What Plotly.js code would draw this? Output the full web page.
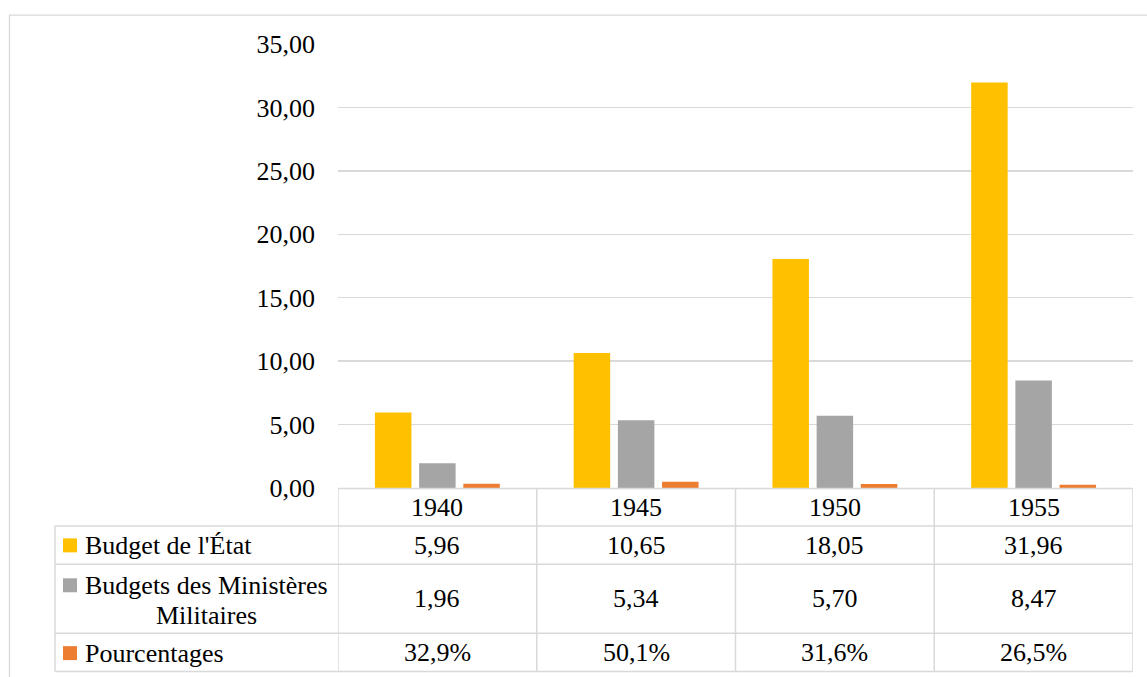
<!DOCTYPE html>
<html>
<head>
<meta charset="utf-8">
<script src="https://cdn.plot.ly/plotly-3.0.1.min.js"></script>
<style>html,body{margin:0;padding:0;background:#fff;}#chart{width:1147px;height:677px;}</style>
</head>
<body>
<div id="chart"></div>
<script>
// ---- data ----
const categories = ["1940", "1945", "1950", "1955"];
const seriesNames = ["Budget de l'État", "Budgets des Ministères Militaires", "Pourcentages"];
const budgetEtat = [5.96, 10.65, 18.05, 31.96];
const budgetsMilitaires = [1.96, 5.34, 5.70, 8.47];
const pourcentages = [0.329, 0.501, 0.316, 0.265];
const yTickValues = [0, 5, 10, 15, 20, 25, 30, 35];

// ---- styling ----
const colors = ["#FFC000", "#A5A5A5", "#ED7D31"];
const FONT = "Liberation Serif, Times New Roman, serif";
const FS = 26;
const LINE = "#d9d9d9";

const W = 1147, H = 677;
const L = 338, R = 1133, T = 43.5, B = 488.5;
const px = p => (p - L) / (R - L);
const py = p => (B - p) / (B - T);

const fmtNum = v => v.toFixed(2).replace('.', ',');
const fmtPct = v => (v * 100).toFixed(1).replace('.', ',') + '%';

const seriesValues = [budgetEtat, budgetsMilitaires, pourcentages];
const seriesText = [budgetEtat.map(fmtNum), budgetsMilitaires.map(fmtNum), pourcentages.map(fmtPct)];

const traces = seriesValues.map((vals, i) => ({
  type: 'bar',
  name: seriesNames[i],
  x: categories,
  y: vals,
  marker: {color: colors[i]},
  hoverinfo: 'x+y+name'
}));

// table geometry (pixels)
const rowLines = [489, 526.7, 565, 634, 672.3];
const headerCenter = 508;
const rowCenters = [546, 599.5, 653];
const tableLeft = 55;

const shapes = [];
// outer chart border
shapes.push({type: 'rect', xref: 'paper', yref: 'paper', x0: px(9.5), x1: px(1200), y0: py(14.5), y1: py(720),
  line: {color: LINE, width: 1.3}, layer: 'below'});
// horizontal table lines
shapes.push({type: 'line', xref: 'paper', yref: 'paper', x0: px(L), x1: px(R), y0: py(rowLines[0]), y1: py(rowLines[0]), line: {color: LINE, width: 1.5}});
for (let k = 1; k < rowLines.length; k++) {
  shapes.push({type: 'line', xref: 'paper', yref: 'paper', x0: px(tableLeft), x1: px(R), y0: py(rowLines[k]), y1: py(rowLines[k]), line: {color: LINE, width: 1.5}});
}
// vertical lines: left of legend column
shapes.push({type: 'line', xref: 'paper', yref: 'paper', x0: px(tableLeft), x1: px(tableLeft), y0: py(rowLines[1]), y1: py(rowLines[4]), line: {color: LINE, width: 1.5}});
// category boundaries
for (let j = 0; j <= categories.length; j++) {
  shapes.push({type: 'line', xref: 'x', yref: 'paper', x0: j - 0.5, x1: j - 0.5, y0: py(rowLines[0]), y1: py(rowLines[4]), line: {color: LINE, width: 1.5}});
}
// legend keys
const keyCenters = [546, 586, 654];
keyCenters.forEach((c, i) => {
  shapes.push({type: 'rect', xref: 'paper', yref: 'paper', x0: px(63), x1: px(77), y0: py(c - 7), y1: py(c + 7),
    line: {width: 0}, fillcolor: colors[i]});
});

const annotations = [];
const txtFont = {family: FONT, size: FS, color: '#000'};
// header (category index positions on the category axis)
categories.forEach((c, j) => {
  annotations.push({x: j, xref: 'x', y: py(headerCenter), yref: 'paper', text: c, showarrow: false,
    xanchor: 'center', yanchor: 'middle', font: txtFont});
});
// values
seriesText.forEach((arr, i) => {
  arr.forEach((t, j) => {
    annotations.push({x: j, xref: 'x', y: py(rowCenters[i]), yref: 'paper', text: t, showarrow: false,
      xanchor: 'center', yanchor: 'middle', font: txtFont});
  });
});
// legend labels
annotations.push({x: px(83), xref: 'paper', y: py(546), yref: 'paper', text: seriesNames[0], showarrow: false,
  xanchor: 'left', yanchor: 'middle', font: txtFont});
const mil = seriesNames[1].split(' ');
annotations.push({x: px(83), xref: 'paper', y: py(586), yref: 'paper', text: mil.slice(0, 3).join(' '), showarrow: false,
  xanchor: 'left', yanchor: 'middle', font: txtFont});
annotations.push({x: px(206.5), xref: 'paper', y: py(616), yref: 'paper', text: mil.slice(3).join(' '), showarrow: false,
  xanchor: 'center', yanchor: 'middle', font: txtFont});
annotations.push({x: px(83), xref: 'paper', y: py(654), yref: 'paper', text: seriesNames[2], showarrow: false,
  xanchor: 'left', yanchor: 'middle', font: txtFont});

const layout = {
  width: W, height: H,
  margin: {l: L, r: W - R, t: T, b: H - B, pad: 0},
  paper_bgcolor: '#fff', plot_bgcolor: '#fff',
  separators: ', ',
  barmode: 'group',
  bargap: 0.333,
  bargroupgap: 0.174,
  showlegend: false,
  font: {family: FONT, size: FS, color: '#000'},
  xaxis: {type: 'category', range: [-0.5, categories.length - 0.5], autorange: false, showticklabels: false, showgrid: false, zeroline: false, showline: false, ticks: '', fixedrange: true},
  yaxis: {range: [0, 35], autorange: false, tickvals: yTickValues, tickformat: '.2f', showgrid: true, gridcolor: LINE, gridwidth: 1.3,
    zeroline: false, showline: false, ticks: '', ticklabelstandoff: 22, tickfont: {family: FONT, size: FS, color: '#000'}, fixedrange: true},
  shapes: shapes,
  annotations: annotations
};

Plotly.newPlot('chart', traces, layout, {displayModeBar: false, staticPlot: true});
</script>
</body>
</html>
